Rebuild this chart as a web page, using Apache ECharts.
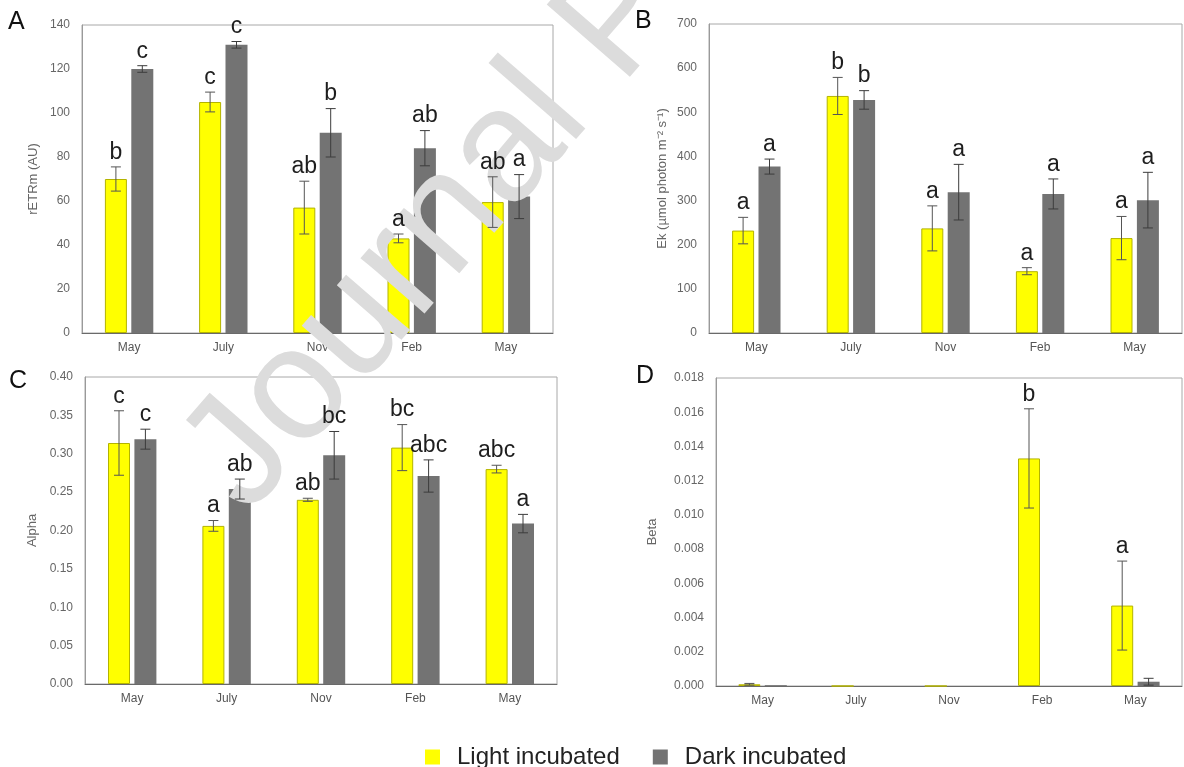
<!DOCTYPE html>
<html>
<head>
<meta charset="utf-8">
<script src="https://cdn.jsdelivr.net/npm/echarts@6/dist/echarts.min.js"></script>
<style>
html,body{margin:0;padding:0;background:#fff;}
#chart{width:1184px;height:767px;}
</style>
</head>
<body>
<div id="chart"></div>
<script>
// ---- data ----
const months = ['May', 'July', 'Nov', 'Feb', 'May'];

// Panel A: rETRm (AU)
const etrLight = [70, 105, 57, 43, 59.5];
const etrLightErr = [5.5, 4.5, 12, 2, 11.5];
const etrDark = [120, 131, 91, 84, 62];
const etrDarkErr = [1.5, 1.5, 11, 8, 10];
const etrLightLetters = ['b', 'c', 'ab', 'a', 'ab'];
const etrDarkLetters = ['c', 'c', 'b', 'ab', 'a'];
const etrTicks = [0, 140, 20];

// Panel B: Ek
const ekLight = [232, 537, 237, 140, 215];
const ekLightErr = [30, 42, 51, 8, 49];
const ekDark = [377, 528, 319, 315, 301];
const ekDarkErr = [17, 21, 63, 34, 63];
const ekLightLetters = ['a', 'b', 'a', 'a', 'a'];
const ekDarkLetters = ['a', 'b', 'a', 'a', 'a'];
const ekTicks = [0, 700, 100];

// Panel C: Alpha
const alphaLight = [0.314, 0.206, 0.240, 0.308, 0.280];
const alphaLightErr = [0.042, 0.007, 0.002, 0.030, 0.005];
const alphaDark = [0.319, 0.254, 0.298, 0.271, 0.209];
const alphaDarkErr = [0.013, 0.013, 0.031, 0.021, 0.012];
const alphaLightLetters = ['c', 'a', 'ab', 'bc', 'abc'];
const alphaDarkLetters = ['c', 'ab', 'bc', 'abc', 'a'];
const alphaTicks = [0, 0.40, 0.05];

// Panel D: Beta
const betaLight = [0.0001, 0, 0, 0.0133, 0.0047];
const betaLightErr = [0.00005, 0, 0, 0.0029, 0.0026];
const betaDark = [0.00005, 0, 0, 0, 0.00025];
const betaDarkErr = [0, 0, 0, 0, 0.0002];
const betaLightLetters = ['', '', '', 'b', 'a'];
const betaDarkLetters = ['', '', '', '', ''];
const betaTicks = [0, 0.018, 0.002];

const seriesNames = ['Light incubated', 'Dark incubated'];
const panelLetters = ['A', 'B', 'C', 'D'];
const axisNames = ['rETRm (AU)', 'Ek (\u00b5mol photon m\u207b\u00b2 s\u207b\u00b9)', 'Alpha', 'Beta'];

// ---- layout / style ----
const FONT = '"Liberation Sans", Arial, sans-serif';
const BAR_W = 22, BAR_GAP = 0.2;
const OFF = BAR_W * (1 + BAR_GAP) / 2;
const LIGHT = '#ffff00', LIGHT_BORDER = '#b3b300', DARK = '#737373';

const panels = [
  {grid: {left: 82, top: 25, width: 471, height: 308}, ticks: etrTicks, dec: 0, nameGap: 42,
   light: etrLight, lightErr: etrLightErr, dark: etrDark, darkErr: etrDarkErr,
   lightLet: etrLightLetters, darkLet: etrDarkLetters, letterPos: [8, 10]},
  {grid: {left: 709, top: 24, width: 473, height: 309}, ticks: ekTicks, dec: 0, nameGap: 40,
   light: ekLight, lightErr: ekLightErr, dark: ekDark, darkErr: ekDarkErr,
   lightLet: ekLightLetters, darkLet: ekDarkLetters, letterPos: [635, 9]},
  {grid: {left: 85, top: 377, width: 472, height: 307}, ticks: alphaTicks, dec: 2, nameGap: 46,
   light: alphaLight, lightErr: alphaLightErr, dark: alphaDark, darkErr: alphaDarkErr,
   lightLet: alphaLightLetters, darkLet: alphaDarkLetters, letterPos: [9, 369]},
  {grid: {left: 716, top: 378, width: 466, height: 308}, ticks: betaTicks, dec: 3, nameGap: 57,
   light: betaLight, lightErr: betaLightErr, dark: betaDark, darkErr: betaDarkErr,
   lightLet: betaLightLetters, darkLet: betaDarkLetters, letterPos: [636, 364]}
];

function errRenderer(means, errs, letters, off, color) {
  return function (params, api) {
    const k = params.dataIndex;
    const m = means[k], e = errs[k];
    const top = api.coord([k, m + e]);
    const bot = api.coord([k, Math.max(m - e, 0)]);
    const x = top[0] + off;
    const ch = [];
    const cap = 5;
    if (e > 0) {
      const st = {stroke: color, lineWidth: 1};
      ch.push({type: 'line', shape: {x1: x, y1: top[1], x2: x, y2: bot[1]}, style: st});
      ch.push({type: 'line', shape: {x1: x - cap, y1: top[1], x2: x + cap, y2: top[1]}, style: st});
      ch.push({type: 'line', shape: {x1: x - cap, y1: bot[1], x2: x + cap, y2: bot[1]}, style: st});
    }
    if (letters[k]) {
      ch.push({type: 'text', style: {text: letters[k], x: x, y: top[1] - 3,
        textAlign: 'center', textVerticalAlign: 'bottom', align: 'center', verticalAlign: 'bottom',
        font: '23px ' + FONT, fill: '#1e1e1e'}});
    }
    return {type: 'group', children: ch};
  };
}

const grids = [], xAxes = [], yAxes = [], series = [], graphics = [];
panels.forEach((p, i) => {
  grids.push(Object.assign({show: true, borderColor: '#a8a8a8', borderWidth: 1}, p.grid));
  xAxes.push({type: 'category', gridIndex: i, data: months,
    axisTick: {show: false}, axisLine: {lineStyle: {color: '#6a6a6a', width: 1}},
    axisLabel: {color: '#555', fontSize: 12, margin: 9, fontFamily: FONT}});
  yAxes.push({type: 'value', gridIndex: i, min: p.ticks[0], max: p.ticks[1], interval: p.ticks[2],
    splitLine: {show: false}, axisTick: {show: false},
    axisLine: {show: true, lineStyle: {color: '#9a9a9a'}},
    axisLabel: {color: '#666', fontSize: 12, margin: 12, fontFamily: FONT,
      formatter: v => v.toFixed(p.dec)},
    name: axisNames[i], nameLocation: 'middle', nameGap: p.nameGap,
    nameTextStyle: {color: '#666', fontSize: 13, fontFamily: FONT}});
  series.push({type: 'bar', name: seriesNames[0], xAxisIndex: i, yAxisIndex: i,
    data: p.light, barWidth: BAR_W, barGap: (BAR_GAP * 100) + '%', z: 2,
    itemStyle: {color: LIGHT, borderColor: LIGHT_BORDER, borderWidth: 1}});
  series.push({type: 'bar', name: seriesNames[1], xAxisIndex: i, yAxisIndex: i,
    data: p.dark, barWidth: BAR_W, barGap: (BAR_GAP * 100) + '%', z: 2,
    itemStyle: {color: DARK}});
  series.push({type: 'custom', xAxisIndex: i, yAxisIndex: i, z: 6, silent: true,
    data: p.light.map((v, k) => [k, v + p.lightErr[k]]),
    renderItem: errRenderer(p.light, p.lightErr, p.lightLet, -OFF, '#555')});
  series.push({type: 'custom', xAxisIndex: i, yAxisIndex: i, z: 6, silent: true,
    data: p.dark.map((v, k) => [k, v + p.darkErr[k]]),
    renderItem: errRenderer(p.dark, p.darkErr, p.darkLet, OFF, '#3c3c3c')});
  graphics.push({type: 'text', left: p.letterPos[0], top: p.letterPos[1], z: 10,
    style: {text: panelLetters[i], font: '25px ' + FONT, fill: '#111'}});
});

// watermark
graphics.push({type: 'text', x: 275, y: 540, rotation: 49 * Math.PI / 180, z: 3,
  style: {text: 'Journal Pre-proof', x: 0, y: 0, font: '160px ' + FONT, fill: '#dcdcdc',
    textVerticalAlign: 'bottom', verticalAlign: 'bottom'}});

const chart = echarts.init(document.getElementById('chart'), null, {renderer: 'canvas'});
chart.setOption({
  animation: false,
  backgroundColor: '#fff',
  textStyle: {fontFamily: FONT},
  grid: grids, xAxis: xAxes, yAxis: yAxes, series: series,
  graphic: graphics,
  legend: {data: seriesNames, left: 420, top: 740, icon: 'rect', itemWidth: 15, itemHeight: 15,
    itemGap: 33, itemStyle: {borderWidth: 0},
    textStyle: {fontSize: 24, color: '#222', fontFamily: FONT, padding: [0, 0, 0, 12]}}
});
</script>
</body>
</html>
